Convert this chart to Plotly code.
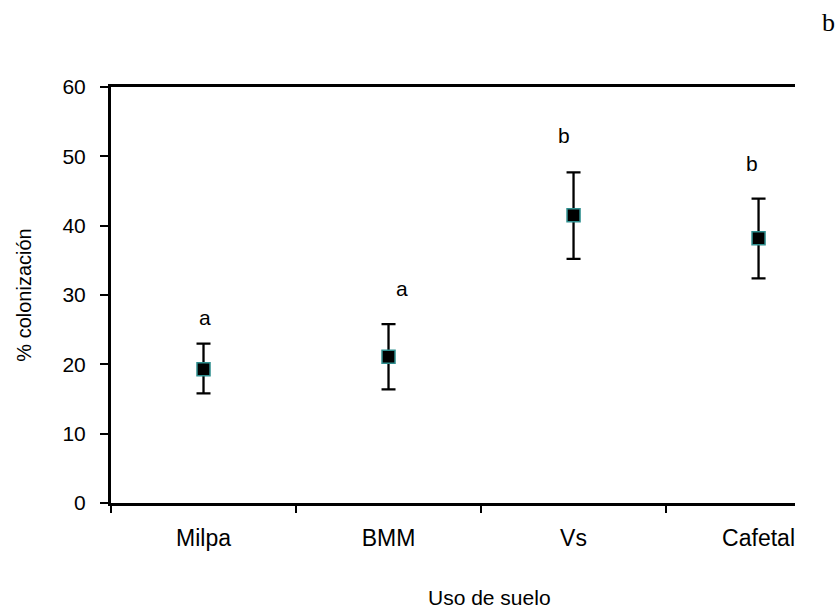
import plotly.graph_objects as go

categories = ["Milpa", "BMM", "Vs", "Cafetal"]
means = [19.3, 21.1, 41.5, 38.2]
upper = [23.0, 25.8, 47.7, 43.9]
lower = [15.8, 16.4, 35.2, 32.4]
letters = ["a", "a", "b", "b"]
letter_y = [26.7, 30.9, 53.0, 49.0]
letter_shift = [1, 13, -10, -7]
y_ticks = [0, 10, 20, 30, 40, 50, 60]

err_plus = [u - m for u, m in zip(upper, means)]
err_minus = [m - l for l, m in zip(lower, means)]

FONT = "Liberation Sans, Arial, sans-serif"

fig = go.Figure()
fig.add_trace(go.Scatter(
    x=categories, y=means, mode="markers",
    marker=dict(symbol="square", size=13, color="black",
                line=dict(color="#2f8f8f", width=1.5)),
    error_y=dict(type="data", symmetric=False, array=err_plus,
                 arrayminus=err_minus, color="black", thickness=2.3, width=7),
    showlegend=False,
))

for c, t, y, s in zip(categories, letters, letter_y, letter_shift):
    fig.add_annotation(x=c, y=y, text=t, showarrow=False, xshift=s,
                       font=dict(family=FONT, size=21, color="black"))

fig.add_annotation(xref="paper", yref="paper", x=(489 - 111) / 684,
                   y=(503 - 597) / 416, text="Uso de suelo", showarrow=False,
                   xanchor="center", yanchor="middle",
                   font=dict(family=FONT, size=21, color="black"))
fig.add_annotation(xref="paper", yref="paper", x=(828 - 111) / 684,
                   y=(503 - 22) / 416, text="b", showarrow=False,
                   xanchor="center", yanchor="middle",
                   font=dict(family="Liberation Serif, Times New Roman, serif",
                             size=26, color="black"))

fig.update_layout(
    width=838, height=614,
    margin=dict(l=111, r=43, t=87, b=111),
    paper_bgcolor="white", plot_bgcolor="white",
    font=dict(family=FONT, color="black"),
    xaxis=dict(
        type="category", range=[-0.5, 3.197], tickson="boundaries",
        showline=True, linecolor="black", linewidth=3, mirror=True,
        ticks="outside", ticklen=7, tickwidth=1.5, tickcolor="black",
        showgrid=False, zeroline=False, ticklabelstandoff=12,
        tickfont=dict(family=FONT, size=23, color="black"),
    ),
    yaxis=dict(
        range=[0, 60], tickvals=y_ticks,
        showline=True, linecolor="black", linewidth=3,
        ticks="outside", ticklen=8, tickwidth=1.5, tickcolor="black",
        showgrid=False, zeroline=False, ticklabelstandoff=10,
        tickfont=dict(family=FONT, size=21, color="black"),
        title=dict(text="% colonización", standoff=26,
                   font=dict(family=FONT, size=20, color="black")),
    ),
)

fig.write_html("out.html")
